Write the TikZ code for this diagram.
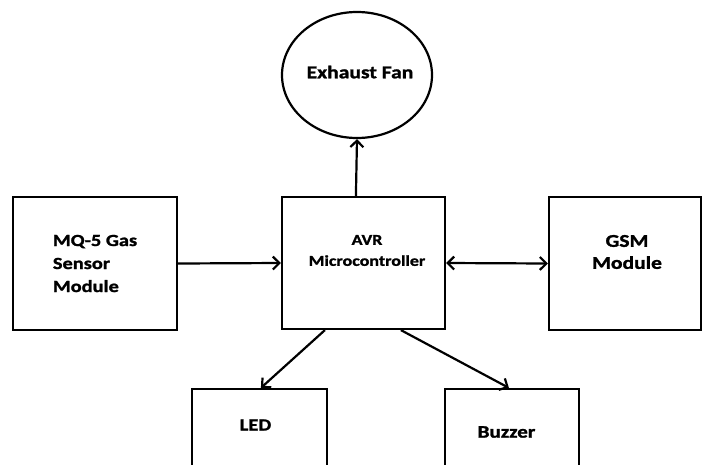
\documentclass[tikz,border=0pt]{standalone}
\usepackage{fontspec}
\setmainfont{Carlito}[FakeStretch=1.2,BoldFeatures={FakeBold=1.4}]
\usetikzlibrary{arrows.meta,calc,shapes.geometric}
\begin{document}
\begin{tikzpicture}[x=1pt,y=-1pt,
  tip/.tip={Straight Barb[length=6.5pt,width=13pt,line width=2.2pt]},
  blk/.style={draw,line width=2.2pt,inner sep=0pt},
  txt/.style={inner sep=0pt},
  conn/.style={line width=2.2pt,-tip},
  biconn/.style={line width=2.2pt,tip-tip}]
\useasboundingbox (0,0) rectangle (704,464);
\clip (0,0) rectangle (704,464);
\fill[white] (0,0) rectangle (704,464);
% boxes
\node[blk,minimum width=164pt,minimum height=133pt,align=left,
      font=\bfseries\fontsize{17}{23}\selectfont] (mq) at (95,263.5) {MQ-5 Gas\\Sensor\\Module};
\node[blk,minimum width=163pt,minimum height=132pt] (mcu) at (363.5,263) {};
\node[txt,align=center,font=\bfseries\fontsize{15}{21}\selectfont] (mcut) at (367,250.5) {AVR\\Microcontroller};
\node[blk,minimum width=152pt,minimum height=133pt] (gsm) at (625,263.5) {};
\node[txt,align=center,font=\bfseries\fontsize{18}{22}\selectfont] (gsmt) at (627,252) {GSM\\Module};
\node[blk,ellipse,minimum width=150pt,minimum height=126pt] (fan) at (357,75) {};
\node[txt,font=\bfseries\fontsize{18}{22}\selectfont] (fant) at (360,72) {Exhaust Fan};
\node[blk,minimum width=135pt,minimum height=100pt] (led) at (259.5,439) {};
\node[txt,font=\bfseries\fontsize{17}{22}\selectfont] (ledt) at (255.5,425) {LED};
\node[blk,minimum width=134pt,minimum height=100pt] (buz) at (512,439) {};
\node[txt,font=\bfseries\fontsize{17.6}{22}\selectfont] (buzt) at (506.5,432) {Buzzer};
% connectors
\draw[conn] (mq.east) -- (mcu.west);
\draw[biconn] (mcu.east) -- (gsm.west);
\draw[conn] ($(mcu.north west)+(75,0)$) -- (fan.south);
\draw[conn] ($(mcu.south west)+(44,0)$) -- ($(led.north west)+(70,0)$);
\draw[conn] ($(mcu.south west)+(120,0)$) -- ($(buz.north west)+(65,0)$);
\end{tikzpicture}
\end{document}
